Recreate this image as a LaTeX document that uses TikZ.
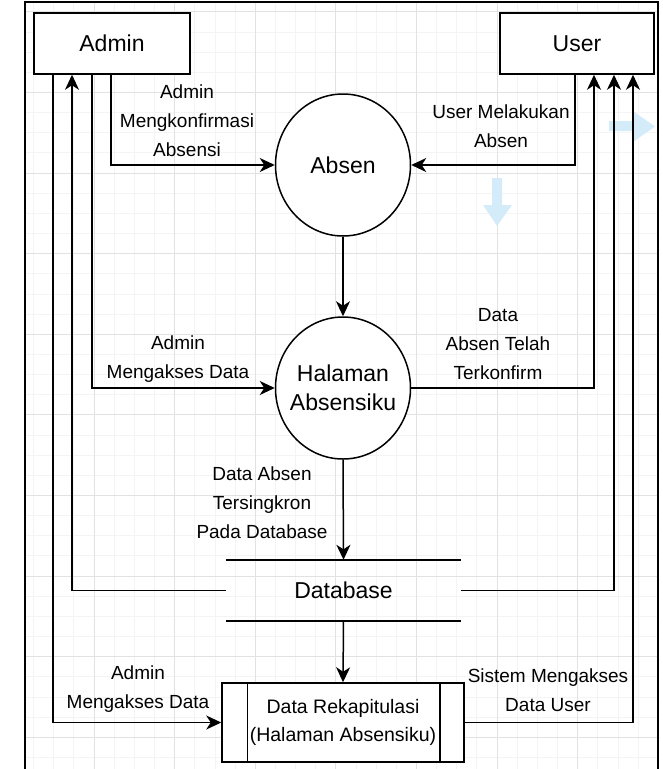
\documentclass[tikz,border=0pt]{standalone}
\usepackage{fontspec}
\setmainfont{Liberation Sans}
\usetikzlibrary{arrows.meta,calc,shapes.geometric}
\definecolor{gridmin}{RGB}{244,244,244}
\definecolor{gridmaj}{RGB}{226,226,226}
\definecolor{hoverblue}{RGB}{212,236,250}
\begin{document}
\begin{tikzpicture}[x=1pt,y=-1pt,
  lw/.style={line width=1.5pt},
  flow/.style={lw,-{Stealth[length=15pt,width=14pt,inset=4.5pt]}},
  entity/.style={draw,lw,fill=white,minimum width=156pt,minimum height=61pt,inner sep=0pt,font=\fontsize{23}{28}\selectfont},
  proc/.style={draw,lw,fill=white,ellipse,minimum width=135pt,minimum height=142pt,inner sep=0pt},
  proctext/.style={align=center,inner sep=0pt,font=\fontsize{23}{29}\selectfont},
  store/.style={minimum width=235pt,minimum height=61pt,inner sep=0pt,font=\fontsize{23}{28}\selectfont},
  rekapbox/.style={draw,lw,fill=white,minimum width=242pt,minimum height=79pt,inner sep=0pt,align=center,font=\fontsize{19.5}{28}\selectfont},
  lbl/.style={align=center,inner sep=0pt,font=\fontsize{19}{29}\selectfont},
  gridminor/.style={draw=gridmin,line width=0.8pt},
  gridmajor/.style={draw=gridmaj,line width=0.9pt},
  hover/.style={fill=hoverblue,draw=none}
]
\useasboundingbox (0,0) rectangle (662,769);
% background grid
\begin{scope}
\clip (25,2) rectangle (658,769);
\foreach \i in {0,...,33} \draw[gridminor] ({13.4+20.15*\i},0) -- ++(0,769);
\foreach \i in {0,...,38} \draw[gridminor] (0,{11.8+20.15*\i}) -- ++(662,0);
\foreach \i in {0,...,8} \draw[gridmajor] ({13.4+80.6*\i},0) -- ++(0,769);
\foreach \i in {0,...,9} \draw[gridmajor] (0,{11.8+80.6*\i}) -- ++(662,0);
\end{scope}
% frame
\draw[line width=1.6pt] (25,769) -- (25,2) -- (658,2) -- (658,769);
% faint hover arrows
\fill[hover] (609,121) -- (633,121) -- (633,111) -- (655,126.5) -- (633,142) -- (633,131) -- (609,131) -- cycle;
\fill[hover] (492,178) -- (502,178) -- (502,205) -- (512,205) -- (497,226) -- (483,205) -- (492,205) -- cycle;
% nodes
\node[entity] (admin) at (112,43.5) {Admin};
\node[entity,minimum width=154pt] (user) at (577,43.5) {User};
\node[proc] (absen) at (343,165) {};
\node[proctext] (absentxt) at (absen.center) {Absen};
\node[proc] (halaman) at (343,388) {};
\node[proctext] (halamantxt) at (halaman.center) {Halaman\\Absensiku};
\node[store] (db) at (343.5,590.5) {Database};
\draw[lw] (db.north west) -- (db.north east);
\draw[lw] (db.south west) -- (db.south east);
\node[rekapbox] (rekap) at (343,722.5) {Data Rekapitulasi\\(Halaman Absensiku)};
\draw[lw] ([xshift=26pt]rekap.north west) -- ([xshift=26pt]rekap.south west);
\draw[lw] ([xshift=-25pt]rekap.north east) -- ([xshift=-25pt]rekap.south east);
% connectors
\draw[flow] ([xshift=-1pt]admin.south) |- (absen.west);
\draw[flow] ([xshift=-2pt]user.south) |- (absen.east);
\draw[flow] (absen.south) -- (halaman.north);
\draw[flow] ([xshift=-20pt]admin.south) |- (halaman.west);
\draw[flow] (halaman.east) -| ([xshift=17pt]user.south);
\draw[flow] (halaman.south) -- (db.north);
\draw[flow] (db.west) -| ([xshift=-40pt]admin.south);
\draw[flow] (db.east) -| ([xshift=37pt]user.south);
\draw[flow] (db.south) -- (rekap.north);
\draw[flow] ([xshift=-59pt]admin.south) |- (rekap.west);
\draw[flow] (rekap.east) -| ([xshift=56pt]user.south);
% labels
\node[lbl] (l1) at (187,121) {Admin\\Mengkonfirmasi\\Absensi};
\node[lbl] (l2) at (501,126) {User Melakukan\\Absen};
\node[lbl] (l3) at (178,359.5) {Admin\\Mengakses Data};
\node[lbl] (l4) at (498,344) {Data\\Absen Telah\\Terkonfirm};
\node[lbl] (l5) at (262,502.5) {Data Absen\\Tersingkron\\Pada Database};
\node[lbl] (l6) at (138,689) {Admin\\Mengakses Data};
\node[lbl] (l7) at (548,690) {Sistem Mengakses\\Data User};
\end{tikzpicture}
\end{document}
